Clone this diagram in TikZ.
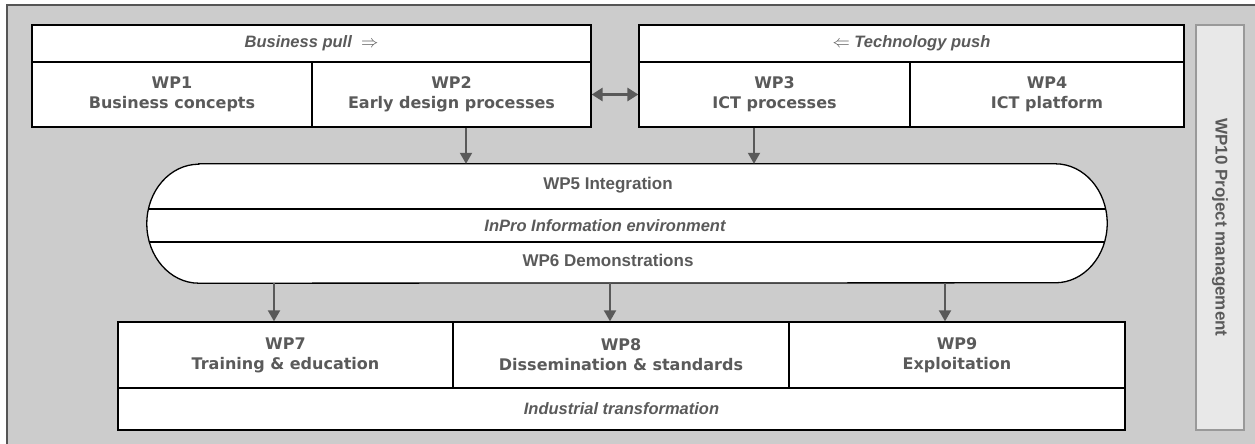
\documentclass[tikz,border=0pt]{standalone}
\usepackage{fontspec}
\usetikzlibrary{arrows.meta}
\newfontfamily\vfont{DejaVu Sans}
\newfontfamily\afont{Liberation Sans}
\definecolor{bg}{HTML}{CCCCCC}
\definecolor{txt}{HTML}{5A5A5A}
\definecolor{arr}{HTML}{595959}
\definecolor{frameline}{HTML}{555555}
\definecolor{pmfill}{HTML}{E8E8E8}
\definecolor{pmline}{HTML}{999999}
\begin{document}
\begin{tikzpicture}[x=1pt,y=-1pt,
  wpcell/.style={draw=black,line width=1.3pt,fill=white,inner sep=0pt,align=center,
    text=txt,font=\vfont\bfseries\fontsize{16}{20}\selectfont},
  hdrcell/.style={draw=black,line width=1.3pt,fill=white,inner sep=0pt,
    text=txt,font=\afont\bfseries\itshape\fontsize{16.5}{19}\selectfont},
  captext/.style={text=txt,inner sep=0pt,font=\afont\bfseries\fontsize{17}{19}\selectfont},
  capitalic/.style={text=txt,inner sep=0pt,font=\afont\bfseries\itshape\fontsize{16.5}{19}\selectfont},
  pmbox/.style={draw=pmline,line width=1.3pt,fill=pmfill,inner sep=0pt,
    text=txt,font=\afont\bfseries\fontsize{17}{19}\selectfont},
  flow/.style={draw=arr,line width=2pt,-{Triangle[length=11pt,width=12pt]}},
  biflow/.style={draw=arr,line width=3pt,{Triangle[length=11pt,width=13pt]}-{Triangle[length=11pt,width=13pt]}},
  capline/.style={draw=black,line width=1.3pt}]

\useasboundingbox (0,0) rectangle (1255,444);

% background frame
\fill[bg] (7,5) rectangle (1258,448);
\draw[frameline,line width=1.5pt] (7,448) -- (7,5) -- (1258,5);

% business side
\node[hdrcell,minimum width=559pt,minimum height=37pt] (hdrL) at (311.5,43.5) {Business pull~~$\Rightarrow$};
\node[wpcell,minimum width=280pt,minimum height=65pt] (wp1) at (172,94.5) {WP1\\Business concepts};
\node[wpcell,minimum width=279pt,minimum height=65pt] (wp2) at (451.5,94.5) {WP2\\Early design processes};

% technology side
\node[hdrcell,minimum width=545pt,minimum height=37pt] (hdrR) at (911.5,43.5) {$\Leftarrow$~Technology push};
\node[wpcell,minimum width=271pt,minimum height=65pt] (wp3) at (774.5,94.5) {WP3\\ICT processes};
\node[wpcell,minimum width=274pt,minimum height=65pt] (wp4) at (1047,94.5) {WP4\\ICT platform};

% project management bar
\node[pmbox,rotate=-90,minimum width=405pt,minimum height=48pt] (pm) at (1220,227.5) {WP10 Project management};

% integration capsule
\node[inner sep=0pt,minimum width=960pt,minimum height=119pt] (cap) at (627,223.5) {};
\def\capsulepath{([xshift=52pt]cap.north west) -- ([xshift=-52pt]cap.north east)
  arc[start angle=90,end angle=-90,x radius=52pt,y radius=59.5pt]
  -- ([xshift=52pt]cap.south west)
  arc[start angle=270,end angle=90,x radius=52pt,y radius=59.5pt] -- cycle}
\fill[white] \capsulepath;
\begin{scope}
  \clip \capsulepath;
  \draw[capline] (147,209) -- (1107,209);
  \draw[capline] (147,242) -- (1107,242);
\end{scope}
\draw[capline] \capsulepath;
\node[captext] (wp5) at (608,185) {WP5 Integration};
\node[capitalic] (env) at (605,226) {InPro Information environment};
\node[captext] (wp6) at (608,260) {WP6 Demonstrations};

% exploitation side
\node[wpcell,minimum width=335pt,minimum height=66pt] (wp7) at (285.5,355) {WP7\\Training \& education};
\node[wpcell,minimum width=336pt,minimum height=66pt] (wp8) at (621,355) {WP8\\Dissemination \& standards};
\node[wpcell,minimum width=336pt,minimum height=66pt] (wp9) at (957,355) {WP9\\Exploitation};
\node[hdrcell,minimum width=1007pt,minimum height=42pt] (ind) at (621.5,409) {Industrial transformation};

% connectors
\coordinate (a1) at (466,0);
\coordinate (a2) at (754,0);
\coordinate (b1) at (274,0);
\coordinate (b2) at (610,0);
\coordinate (b3) at (945,0);
\draw[biflow] (wp2.east) -- (wp3.west);
\draw[flow] (wp2.south -| a1) -- (cap.north -| a1);
\draw[flow] (wp3.south -| a2) -- (cap.north -| a2);
\draw[flow] (cap.south -| b1) -- (wp7.north -| b1);
\draw[flow] (cap.south -| b2) -- (wp8.north -| b2);
\draw[flow] (cap.south -| b3) -- (wp9.north -| b3);
\end{tikzpicture}
\end{document}
